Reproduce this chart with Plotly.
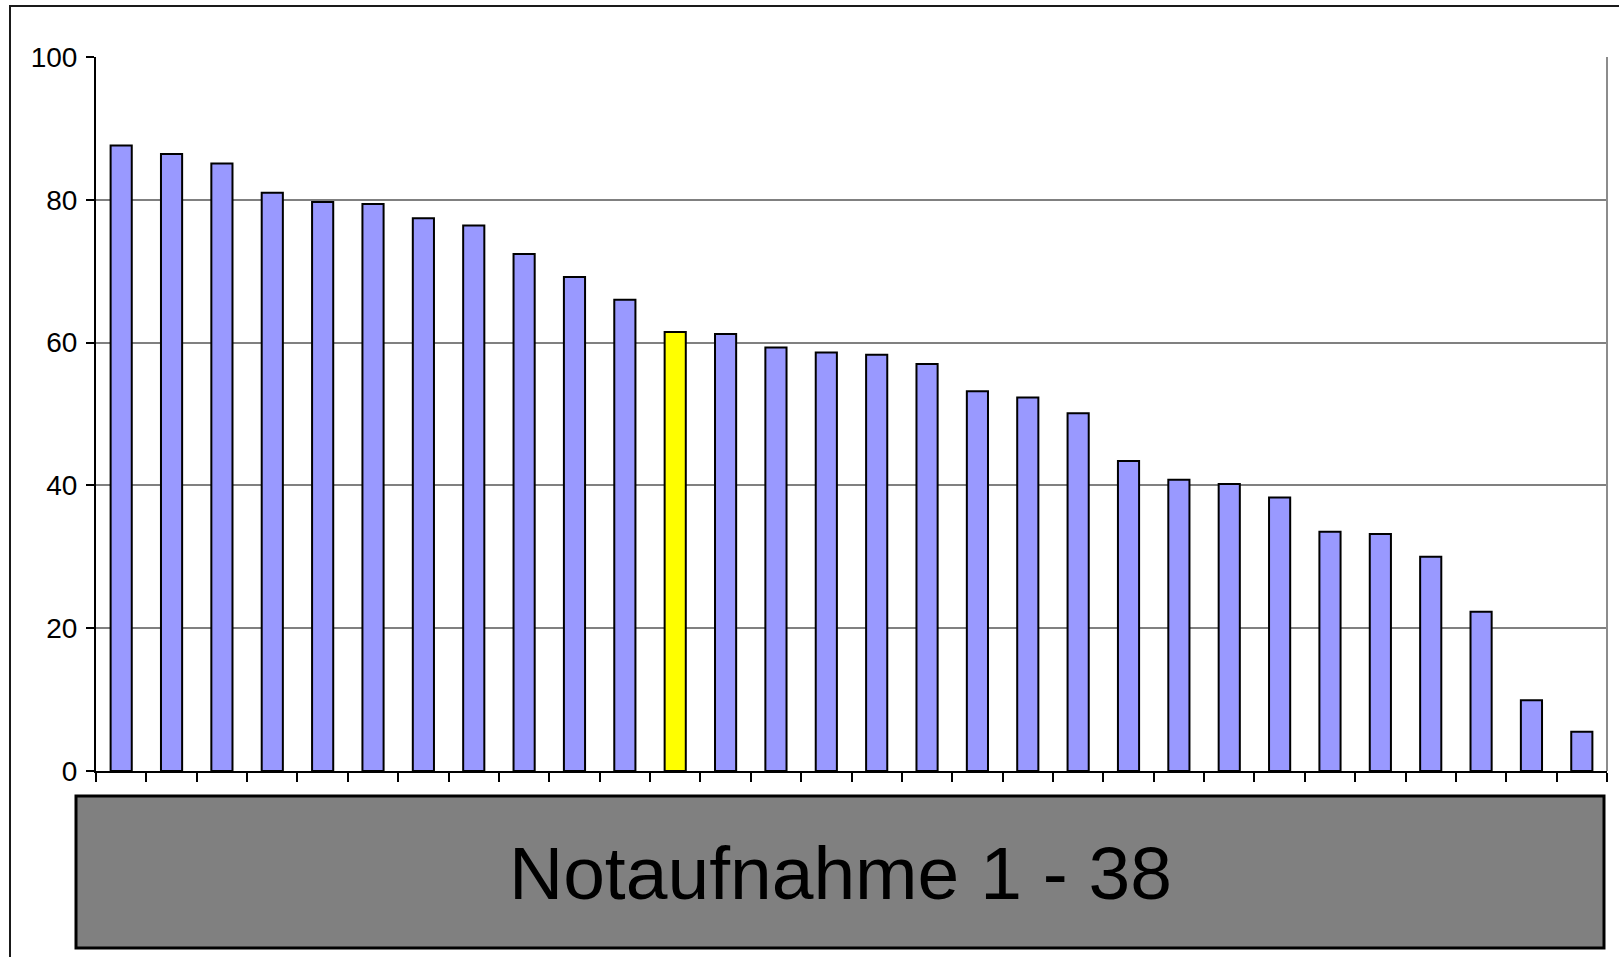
import plotly.graph_objects as go

# Data
categories = [str(i) for i in range(1, 31)]
values = [87.6, 86.4, 85.1, 81.0, 79.7, 79.4, 77.4, 76.4, 72.4, 69.2,
          66.0, 61.5, 61.2, 59.3, 58.6, 58.3, 57.0, 53.2, 52.3, 50.1,
          43.4, 40.8, 40.2, 38.3, 33.5, 33.2, 30.0, 22.3, 9.9, 5.5]
highlight_category = "12"
y_ticks = [0, 20, 40, 60, 80, 100]
title_text = "Notaufnahme 1 - 38"

base_color = "#9999FF"
highlight_color = "#FFFF00"
colors = [highlight_color if c == highlight_category else base_color for c in categories]

W, H = 1619, 957
L, R, T, B = 96, 1607, 57, 771  # plot area pixel bounds


def px(x):
    return (x - L) / (R - L)


def py(y):
    return (B - y) / (B - T)


fig = go.Figure()
fig.add_trace(go.Bar(
    x=categories, y=values,
    marker=dict(color=colors, line=dict(color="#000000", width=2)),
    hoverinfo="x+y",
))

shapes = [
    # outer frame (partially cut off at right/bottom)
    dict(type="rect", xref="paper", yref="paper",
         x0=px(10), x1=px(1630), y0=py(970), y1=py(6),
         line=dict(color="#1a1a1a", width=2), fillcolor="rgba(0,0,0,0)", layer="below"),
    # right border of plot area
    dict(type="line", xref="paper", yref="paper",
         x0=1, x1=1, y0=0, y1=1, line=dict(color="#8c8c8c", width=2)),
    # grey title box
    dict(type="rect", xref="paper", yref="paper",
         x0=px(76), x1=px(1604), y0=py(948), y1=py(796),
         line=dict(color="#000000", width=3), fillcolor="#808080"),
]

fig.update_layout(
    width=W, height=H,
    margin=dict(l=L, r=W - R, t=T, b=H - B, pad=0),
    paper_bgcolor="#ffffff", plot_bgcolor="#ffffff",
    bargap=0.58,
    showlegend=False,
    font=dict(family="Liberation Sans, Arial, sans-serif", color="#000000"),
    shapes=shapes,
    annotations=[dict(
        text=title_text, xref="paper", yref="paper",
        x=px(840), y=py(873), xanchor="center", yanchor="middle",
        showarrow=False, font=dict(size=75, color="#000000",
                                   family="Liberation Sans, Arial, sans-serif"),
    )],
)

fig.update_xaxes(
    type="category", range=[-0.5, len(categories) - 0.5],
    showticklabels=False, showgrid=False, zeroline=False,
    showline=True, linecolor="#000000", linewidth=2,
    ticks="outside", tickson="boundaries", ticklen=9, tickwidth=1.5, tickcolor="#000000",
)
fig.update_yaxes(
    range=[0, 100], tickvals=y_ticks, ticktext=[str(v) for v in y_ticks],
    showgrid=True, gridcolor="#808080", gridwidth=1.5, zeroline=False,
    showline=True, linecolor="#000000", linewidth=2,
    ticks="outside", ticklen=8, tickwidth=1.5, tickcolor="#000000",
    tickfont=dict(size=28, color="#000000"), ticklabelstandoff=3,
)

fig.write_html(
    "out.html",
    config={"displayModeBar": False},
    post_script="document.body.style.margin='0';document.body.style.overflow='hidden';",
)
